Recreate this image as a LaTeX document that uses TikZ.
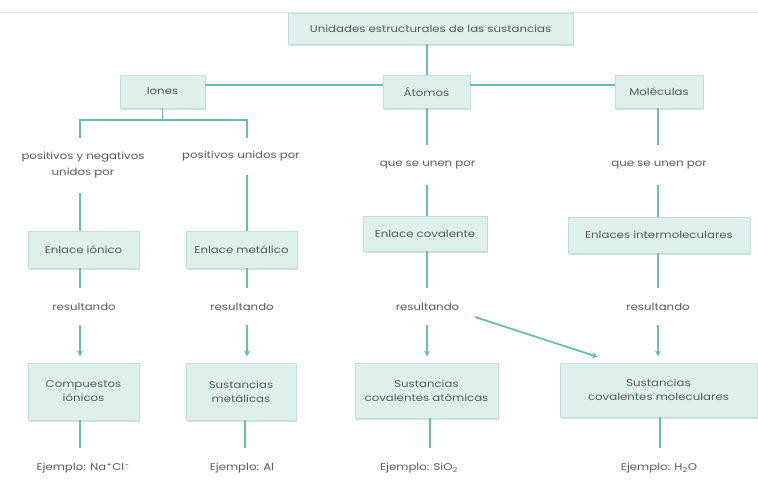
\documentclass[tikz,border=0pt]{standalone}
\usepackage{fontspec}
\setmainfont[FakeStretch=1.2]{Poppins}
\usetikzlibrary{arrows.meta,shadows}
\definecolor{linecol}{HTML}{6DBDAE}
\definecolor{boxfill}{HTML}{DDF0EC}
\definecolor{boxedge}{HTML}{C2E1DA}
\definecolor{txt}{HTML}{595959}
\definecolor{rule}{HTML}{E2E2E2}
\begin{document}
\begin{tikzpicture}[x=1pt,y=-1pt,
  box/.style={draw=boxedge, fill=boxfill, line width=0.8pt, inner sep=2pt,
    align=center, text=txt, font=\fontsize{9.8}{14}\selectfont,
    drop shadow={shadow xshift=1.2pt, shadow yshift=-1.6pt, opacity=0.28, fill=gray}},
  lbl/.style={align=center, text=txt, inner sep=0pt, font=\fontsize{9.8}{16}\selectfont},
  conn/.style={draw=linecol, line width=1.8pt},
  arr/.style={conn, -{Stealth[length=6pt,width=6pt]}}]
\useasboundingbox (0,0) rectangle (758,480);

% thin rule along the top
\coordinate (ruleL) at (0,12);
\coordinate (ruleR) at (758,12);
\draw[rule, line width=0.8pt] (ruleL) -- (ruleR);

% column positions
\coordinate (c1) at (80,0);
\coordinate (c2) at (247,0);
\coordinate (c3) at (427,0);
\coordinate (c4) at (658,0);

% top level
\node[box, minimum width=285, minimum height=31] (top) at (430.5,28.5) {Unidades estructurales de las sustancias};
\node[box, minimum width=85, minimum height=33] (iones) at (162.5,91.5) {Iones};
\node[box, minimum width=87, minimum height=33] (atomos) at (426.5,91.5) {Átomos};
\node[box, minimum width=88, minimum height=33] (molec) at (659,91.5) {Moléculas};

\draw[conn] (top.south -| c3) -- (atomos.north -| c3);
\draw[conn] ([yshift=6.5pt]iones.east) -- ([yshift=6.5pt]atomos.west);
\draw[conn] ([yshift=6.5pt]atomos.east) -- ([yshift=6.5pt]molec.west);

% linking phrases (node height sets the gap left to the connectors)
\node[lbl, minimum height=55] (posneg) at (83,165.5) {positivos y negativos\\unidos por};
\node[lbl, minimum height=37] (pos) at (241,156.5) {positivos unidos por};
\node[lbl, minimum height=40] (une1) at (427.5,165) {que se unen por};
\node[lbl, minimum height=40] (une2) at (659,165) {que se unen por};

% bonds
\node[box, minimum width=111, minimum height=37] (ionico) at (83.5,249.5) {Enlace iónico};
\node[box, minimum width=111, minimum height=37] (metal) at (241.5,249.5) {Enlace metálico};
\node[box, minimum width=124, minimum height=35] (coval) at (425,233.5) {Enlace covalente};
\node[box, minimum width=182, minimum height=36] (inter) at (659,235) {Enlaces intermoleculares};

\node[lbl, minimum height=37] (res1) at (84,306.5) {resultando};
\node[lbl, minimum height=37] (res2) at (242,306.5) {resultando};
\node[lbl, minimum height=37] (res3) at (427.5,306.5) {resultando};
\node[lbl, minimum height=37] (res4) at (658,306.5) {resultando};

% substances
\node[box, minimum width=111, minimum height=57] (compi) at (83.5,391.5) {Compuestos\\iónicos};
\node[box, minimum width=110, minimum height=57] (smet) at (241,391.5) {Sustancias\\metálicas};
\node[box, minimum width=143, minimum height=55] (scat) at (426.5,390.5) {Sustancias\\covalentes atómicas};
\node[box, minimum width=197, minimum height=54] (scmol) at (658.5,390) {Sustancias\\covalentes moleculares};

\node[lbl, minimum height=40] (ej1) at (83,468) {Ejemplo: Na\textsuperscript{+}Cl\textsuperscript{−}};
\node[lbl, minimum height=40] (ej2) at (242,468) {Ejemplo: Al};
\node[lbl, minimum height=40] (ej3) at (419,468) {Ejemplo: SiO\textsubscript{2}};
\node[lbl, minimum height=40] (ej4) at (659,468) {Ejemplo: H\textsubscript{2}O};

% Iones branch
\coordinate (fork) at (162.5,120);
\coordinate (forkL) at (80,120);
\coordinate (forkR) at (247,120);
\draw[conn] (iones.south) -- (fork);
\draw[conn] (posneg.north -| c1) -- (forkL) -- (forkR) -- (pos.north -| c2);

% vertical connectors, column by column
\draw[conn] (posneg.south -| c1) -- (ionico.north -| c1);
\draw[conn] (pos.south -| c2) -- (metal.north -| c2);
\draw[conn] (atomos.south -| c3) -- (une1.north -| c3);
\draw[conn] (une1.south -| c3) -- (coval.north -| c3);
\draw[conn] (molec.south -| c4) -- (une2.north -| c4);
\draw[conn] (une2.south -| c4) -- (inter.north -| c4);

\draw[conn] (ionico.south -| c1) -- (res1.north -| c1);
\draw[conn] (metal.south -| c2) -- (res2.north -| c2);
\draw[conn] (coval.south -| c3) -- (res3.north -| c3);
\draw[conn] (inter.south -| c4) -- (res4.north -| c4);

\draw[arr] (res1.south -| c1) -- ([yshift=6pt]compi.north -| c1);
\draw[arr] (res2.south -| c2) -- ([yshift=6pt]smet.north -| c2);
\draw[arr] (res3.south -| c3) -- ([yshift=6pt]scat.north -| c3);
\draw[arr] (res4.south -| c4) -- ([yshift=6pt]scmol.north -| c4);

\coordinate (diagS) at (475,317);
\coordinate (diagE) at (598,357);
\draw[arr] (diagS) -- (diagE);

\draw[conn] (compi.south -| c1) -- (ej1.north -| c1);
\draw[conn] (smet.south -| 245,0) -- (ej2.north -| 245,0);
\draw[conn] (scat.south -| 430,0) -- (ej3.north -| 430,0);
\draw[conn] (scmol.south -| 660,0) -- (ej4.north -| 660,0);
\end{tikzpicture}
\end{document}
